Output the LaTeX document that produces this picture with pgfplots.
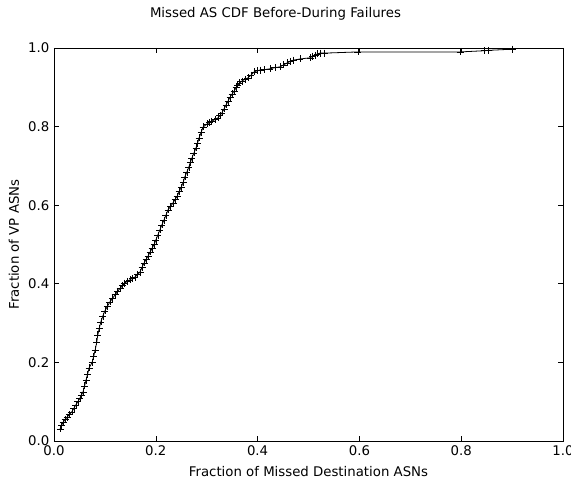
\documentclass[border=0pt]{standalone}
\usepackage{fontspec}
\setmainfont{DejaVu Sans}
\usepackage{pgfplots}
\pgfplotsset{compat=1.18}
\begin{document}
\fontsize{13.3pt}{16pt}\selectfont
\begin{tikzpicture}[x=1pt,y=1pt]
\path[use as bounding box] (-54,-40) rectangle (517,441);
\begin{axis}[
  at={(0,0)}, anchor=south west,
  scale only axis, width=509pt, height=393pt,
  xmin=0, xmax=1, ymin=0, ymax=1,
  xtick={0,0.2,0.4,0.6,0.8,1.0}, ytick={0,0.2,0.4,0.6,0.8,1.0},
  xticklabels={0.0,0.2,0.4,0.6,0.8,1.0}, yticklabels={0.0,0.2,0.4,0.6,0.8,1.0},
  tick align=inside, tick pos=both,
  major tick length=5pt,
  tick style={black, line width=0.6pt},
  axis line style={black, line width=0.8pt},
  /pgf/number format/assume math mode=true,
  ticklabel style={font=\fontsize{13.3pt}{16pt}\selectfont},
  label style={font=\fontsize{13.3pt}{16pt}\selectfont},
  title style={font=\fontsize{13.3pt}{16pt}\selectfont, at={(0.5,1)}, anchor=base, yshift=24pt, xshift=-33pt},
  title={Missed AS CDF Before-During Failures},
  xlabel={Fraction of Missed Destination ASNs},
  ylabel={Fraction of VP ASNs},
  xlabel style={at={(0.5,0)}, anchor=base, yshift=-36pt},
  clip=false,
]
\addplot[black, line width=0.8pt, mark=+, mark size=3.5pt, mark options={line width=0.6pt}] coordinates {
(0.012,0.031) (0.015,0.040) (0.018,0.048) (0.022,0.055) (0.026,0.061) (0.030,0.067) (0.035,0.074)
(0.039,0.083) (0.043,0.092) (0.047,0.100) (0.051,0.109) (0.054,0.117) (0.057,0.125)
(0.060,0.140) (0.063,0.155) (0.066,0.170) (0.069,0.186) (0.075,0.200) (0.078,0.216) (0.081,0.232)
(0.084,0.252) (0.086,0.270) (0.089,0.287) (0.092,0.303) (0.096,0.318) (0.100,0.331)
(0.105,0.343) (0.110,0.354) (0.115,0.363) (0.120,0.372) (0.125,0.381) (0.130,0.389)
(0.135,0.396) (0.139,0.402) (0.144,0.406) (0.149,0.410) (0.154,0.414) (0.159,0.417)
(0.164,0.423) (0.169,0.430) (0.173,0.442) (0.177,0.453) (0.181,0.462) (0.185,0.471)
(0.189,0.481) (0.193,0.491) (0.197,0.501) (0.200,0.511) (0.204,0.524) (0.208,0.537)
(0.212,0.550) (0.216,0.562) (0.220,0.575) (0.224,0.588) (0.229,0.597) (0.234,0.606)
(0.238,0.615) (0.242,0.623) (0.246,0.635) (0.250,0.646) (0.254,0.659) (0.257,0.672)
(0.261,0.684) (0.265,0.697) (0.268,0.709) (0.271,0.720) (0.275,0.733) (0.279,0.746)
(0.282,0.758) (0.285,0.771) (0.289,0.785) (0.293,0.799) (0.301,0.807) (0.306,0.811)
(0.310,0.814) (0.316,0.818) (0.322,0.822) (0.326,0.828) (0.330,0.835) (0.334,0.845)
(0.338,0.855) (0.342,0.865) (0.346,0.875) (0.350,0.883) (0.354,0.891) (0.358,0.899)
(0.361,0.906) (0.365,0.911) (0.369,0.916) (0.375,0.920) (0.381,0.924) (0.387,0.931)
(0.393,0.939) (0.399,0.942) (0.405,0.944) (0.414,0.945) (0.424,0.947) (0.434,0.950)
(0.444,0.952) (0.451,0.957) (0.458,0.962) (0.464,0.966) (0.470,0.969) (0.483,0.972)
(0.503,0.975) (0.508,0.979) (0.513,0.982) (0.518,0.985) (0.523,0.987) (0.532,0.987)
(0.597,0.990) (0.798,0.990) (0.845,0.993) (0.853,0.994) (0.901,0.997)
};
\end{axis}
\end{tikzpicture}
\end{document}
